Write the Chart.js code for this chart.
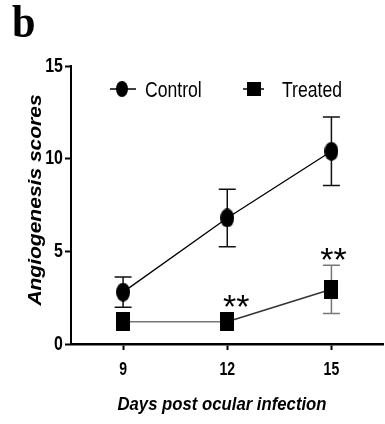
<!DOCTYPE html>
<html>
<head>
<meta charset="utf-8">
<script src="https://cdn.jsdelivr.net/npm/chart.js@4/dist/chart.umd.min.js"></script>
<style>
  html, body { margin: 0; padding: 0; background: #fff; overflow: hidden; }
  #wrap { width: 385px; height: 424px; overflow: hidden; }
</style>
</head>
<body>
<div id="wrap"><canvas id="chart" width="389" height="424"></canvas></div>
<script>
//*Data
const days = [9, 12, 15];
const controlMean = [2.8, 6.8, 10.4];
const controlErr = [0.82, 1.55, 1.85];
const treatedMean = [1.2, 1.2, 2.95];
const treatedErr = [0, 0, 1.3];
const xTicks = [9, 12, 15];
const yTicks = [0, 5, 10, 15];
const sigDays = [12, 15];
const sigLabel = '**';
const xTitle = 'Days post ocular infection';
const yTitle = 'Angiogenesis scores';

const sans = "'Liberation Sans', Arial, sans-serif";

//?The original figure is squeezed sideways, so text is drawn narrow
const drawText = (ctx, text, x, y, o) => {
  ctx.save();
  ctx.translate(x, y);
  if (o.rotate) ctx.rotate(o.rotate);
  ctx.scale(o.sx || 1, o.sy || 1);
  ctx.font = o.font;
  ctx.textAlign = o.align || 'left';
  ctx.textBaseline = o.baseline || 'alphabetic';
  ctx.fillStyle = '#000';
  ctx.fillText(text, 0, 0);
  ctx.restore();
}

//*Markers (dots come out as ellipses too)
const makeMarker = (shape, w, h) => {
  const c = document.createElement('canvas');
  c.width = w;
  c.height = h;
  const g = c.getContext('2d');
  g.fillStyle = '#000';
  if (shape === 'circle') {
    g.beginPath();
    g.ellipse(w / 2, h / 2, w / 2, h / 2, 0, 0, Math.PI * 2);
    g.fill();
  } else {
    g.fillRect(0, 0, w, h);
  }
  return c;
}
const dotMarker = makeMarker('circle', 14, 19);
const boxMarker = makeMarker('rect', 14, 19);
const dotSmall = makeMarker('circle', 12, 16);
const boxSmall = makeMarker('rect', 14, 14);

//*Error bars
const errorBars = {
  id: 'errorBars',
  beforeDatasetsDraw(chart) {
    const { ctx, scales: { x, y } } = chart;
    const sets = [
      { mean: controlMean, err: controlErr, color: '#111' },
      { mean: treatedMean, err: treatedErr, color: '#777' },
    ];
    ctx.save();
    ctx.lineWidth = 1.5;
    sets.forEach(s => {
      ctx.strokeStyle = s.color;
      days.forEach((d, i) => {
        if (!s.err[i]) return;
        const px = x.getPixelForValue(d);
        const top = y.getPixelForValue(s.mean[i] + s.err[i]);
        const bot = y.getPixelForValue(s.mean[i] - s.err[i]);
        ctx.beginPath();
        ctx.moveTo(px, top); ctx.lineTo(px, bot);
        ctx.moveTo(px - 8.5, top); ctx.lineTo(px + 8.5, top);
        ctx.moveTo(px - 8.5, bot); ctx.lineTo(px + 8.5, bot);
        ctx.stroke();
      });
    });
    ctx.restore();
  }
}

//*Text: panel letter, tick labels, axis titles, legend, stars
const extras = {
  id: 'extras',
  afterDraw(chart) {
    const { ctx, scales: { x, y } } = chart;

    // panel letter
    drawText(ctx, 'b', 12, 37, { font: "bold 47px 'Liberation Serif', 'Times New Roman', serif", sx: 0.9 });

    // tick labels
    yTicks.forEach(v => {
      drawText(ctx, String(v), 63, y.getPixelForValue(v), { font: 'bold 21px ' + sans, sx: 0.76, align: 'right', baseline: 'middle' });
    });
    xTicks.forEach(v => {
      drawText(ctx, String(v), x.getPixelForValue(v), 360, { font: 'bold 19px ' + sans, sx: 0.74, align: 'center', baseline: 'top' });
    });

    // axis titles
    drawText(ctx, xTitle, 222, 410, { font: 'italic bold 19px ' + sans, sx: 0.88, align: 'center' });
    drawText(ctx, yTitle, 41, 200, { font: 'italic bold 21px ' + sans, sy: 0.9, rotate: -Math.PI / 2, align: 'center' });

    // legend
    const items = [
      { label: chart.data.datasets[0].label, img: dotSmall, x1: 110, x2: 136, cx: 122, tx: 145 },
      { label: chart.data.datasets[1].label, img: boxSmall, x1: 243, x2: 264, cx: 254, tx: 282 },
    ];
    const ly = 89;
    ctx.save();
    ctx.strokeStyle = '#000';
    ctx.lineWidth = 1.5;
    items.forEach(it => {
      ctx.beginPath();
      ctx.moveTo(it.x1, ly); ctx.lineTo(it.x2, ly);
      ctx.stroke();
      ctx.drawImage(it.img, it.cx - it.img.width / 2, ly - it.img.height / 2);
      drawText(ctx, it.label, it.tx, ly + 8, { font: '22px ' + sans, sx: 0.8 });
    });
    ctx.restore();

    // stars above the treated group
    ctx.save();
    ctx.font = '34px ' + sans;
    const m = ctx.measureText(sigLabel);
    ctx.restore();
    const dx = { 12: 9, 15: 2 };
    sigDays.forEach(d => {
      const i = days.indexOf(d);
      let top = y.getPixelForValue(treatedMean[i] + treatedErr[i]);
      if (!treatedErr[i]) top -= boxMarker.height / 2;
      const cy = top - 11.5;
      const base = cy + (m.actualBoundingBoxAscent - m.actualBoundingBoxDescent) / 2;
      drawText(ctx, sigLabel, x.getPixelForValue(d) + dx[d], base, { font: '34px ' + sans, align: 'center' });
    });
  }
}

//*Chart
const ctx = document.getElementById('chart').getContext('2d');
const chart = new Chart(ctx, {
  type: 'line',
  data: {
    datasets: [
      {
        label: 'Control',
        data: days.map((d, i) => ({ x: d, y: controlMean[i] })),
        borderColor: '#000',
        borderWidth: 1.3,
        pointStyle: dotMarker,
        tension: 0,
      },
      {
        label: 'Treated',
        data: days.map((d, i) => ({ x: d, y: treatedMean[i] })),
        borderColor: '#555',
        borderWidth: 1.5,
        segment: {
          borderColor: c => c.p0DataIndex === 0 ? '#777' : '#333',
        },
        pointStyle: boxMarker,
        tension: 0,
      },
    ],
  },
  options: {
    responsive: false,
    animation: false,
    devicePixelRatio: 1,
    layout: { padding: { top: 66, right: 0, left: 0, bottom: 0 } },
    plugins: {
      legend: { display: false },
      tooltip: { enabled: false },
    },
    scales: {
      x: {
        type: 'linear',
        min: 7.5,
        max: 16.5,
        afterBuildTicks: s => { s.ticks = xTicks.map(v => ({ value: v })); },
        afterFit: s => { s.height = 80; },
        grid: { drawOnChartArea: false, color: '#000', tickLength: 6, tickWidth: 2 },
        border: { color: '#000', width: 2.5 },
        ticks: { display: false },
      },
      y: {
        min: 0,
        max: 15,
        afterBuildTicks: s => { s.ticks = yTicks.map(v => ({ value: v })); },
        afterFit: s => { s.width = 71; },
        grid: { drawOnChartArea: false, color: '#000', tickLength: 6, tickWidth: 2 },
        border: { color: '#000', width: 2 },
        ticks: { display: false },
      },
    },
  },
  plugins: [errorBars, extras],
});
</script>
</body>
</html>
